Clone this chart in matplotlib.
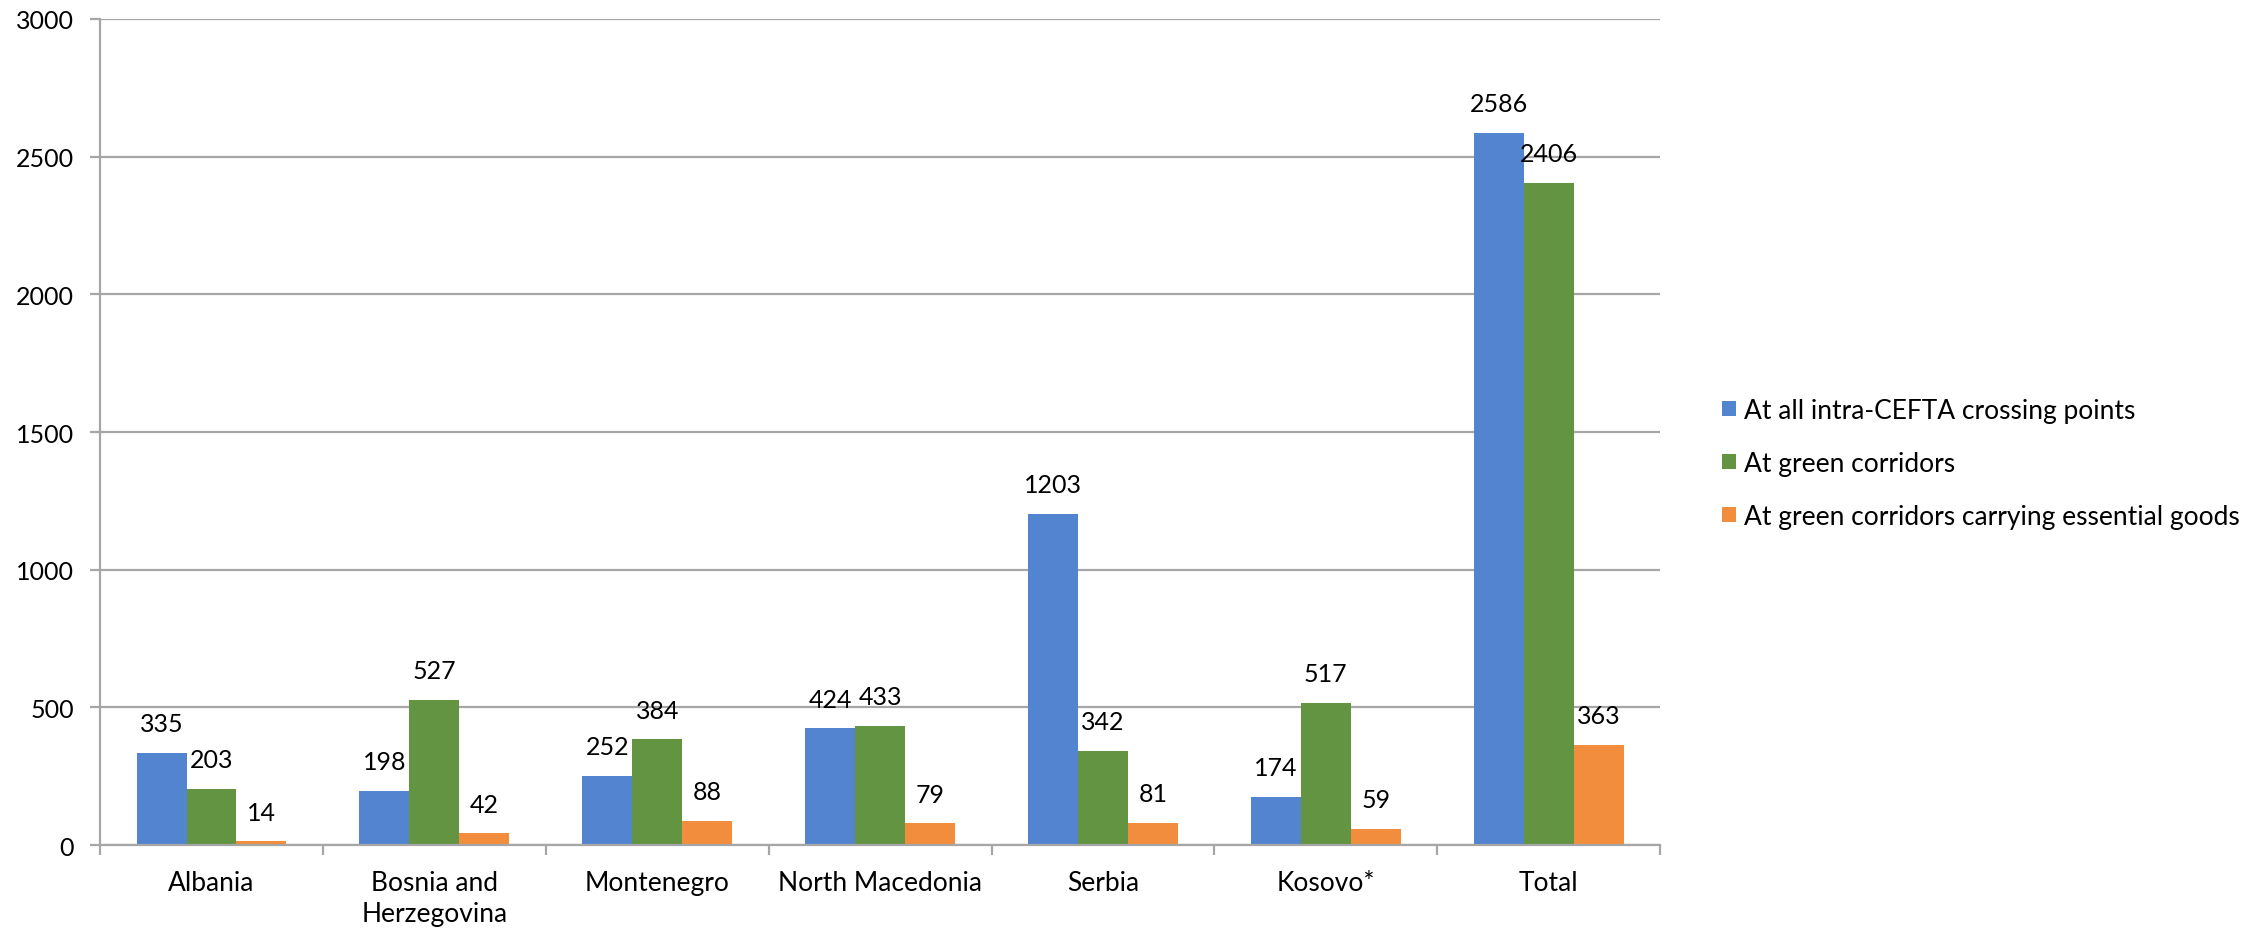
#!/usr/bin/env python3
"""Grouped bar chart: crossings at intra-CEFTA points / green corridors."""

import numpy as np
import matplotlib

matplotlib.use("Agg")
import matplotlib.pyplot as plt

CATEGORIES = ["Albania", "Bosnia and\nHerzegovina", "Montenegro", "North Macedonia",
              "Serbia", "Kosovo*", "Total"]
ALL_POINTS = [335, 198, 252, 424, 1203, 174, 2586]
GREEN = [203, 527, 384, 433, 342, 517, 2406]
ESSENTIAL = [14, 42, 88, 79, 81, 59, 363]
SERIES_LABELS = ["At all intra-CEFTA crossing points",
                 "At green corridors",
                 "At green corridors carrying essential goods"]
COLORS = ["#5384cf", "#629442", "#f18d3c"]
YTICKS = [0, 500, 1000, 1500, 2000, 2500, 3000]

plt.rcParams["font.family"] = ["Lato", "DejaVu Sans"]
GRID = "#a6a6a6"


def main():
    fig = plt.figure(figsize=(22.44, 9.29), dpi=100)
    ax = fig.add_axes([0.0446, 0.0893, 0.6952, 0.8892])

    x = np.arange(len(CATEGORIES))
    w = 0.224
    for i, (vals, lab, col) in enumerate(zip([ALL_POINTS, GREEN, ESSENTIAL],
                                             SERIES_LABELS, COLORS)):
        bars = ax.bar(x + (i - 1) * w, vals, width=w, color=col, label=lab, zorder=3)
        for b, v in zip(bars, vals):
            ax.annotate(str(v), (b.get_x() + b.get_width() / 2, v),
                        xytext=(0, 21), textcoords="offset points",
                        ha="center", va="center", fontsize=18, zorder=4)

    ax.set_xlim(-0.5, len(CATEGORIES) - 0.5)
    ax.set_ylim(0, 3000)
    ax.set_yticks(YTICKS)
    ax.yaxis.grid(True, color=GRID, lw=1.6, zorder=0)
    ax.tick_params(axis="y", labelsize=18, length=7, width=1.6, color=GRID, pad=12)

    ax.set_xticks(x)
    ax.set_xticklabels(CATEGORIES, fontsize=19, va="top", linespacing=1.3)
    ax.tick_params(axis="x", length=0, pad=18)
    ax.set_xticks(np.arange(len(CATEGORIES) + 1) - 0.5, minor=True)
    ax.tick_params(axis="x", which="minor", length=7, width=1.6, color=GRID)

    for s in ["top", "right"]:
        ax.spines[s].set_visible(False)
    for s in ["left", "bottom"]:
        ax.spines[s].set_color(GRID)
        ax.spines[s].set_linewidth(1.6)
    ax.spines["bottom"].set_zorder(5)

    fig.legend(loc="center left", bbox_to_anchor=(0.757, 0.50), frameon=False,
               fontsize=19, handlelength=0.5, handleheight=0.5, handletextpad=0.3,
               labelspacing=1.07)

    fig.savefig("out.png", dpi=100)


if __name__ == "__main__":
    main()
